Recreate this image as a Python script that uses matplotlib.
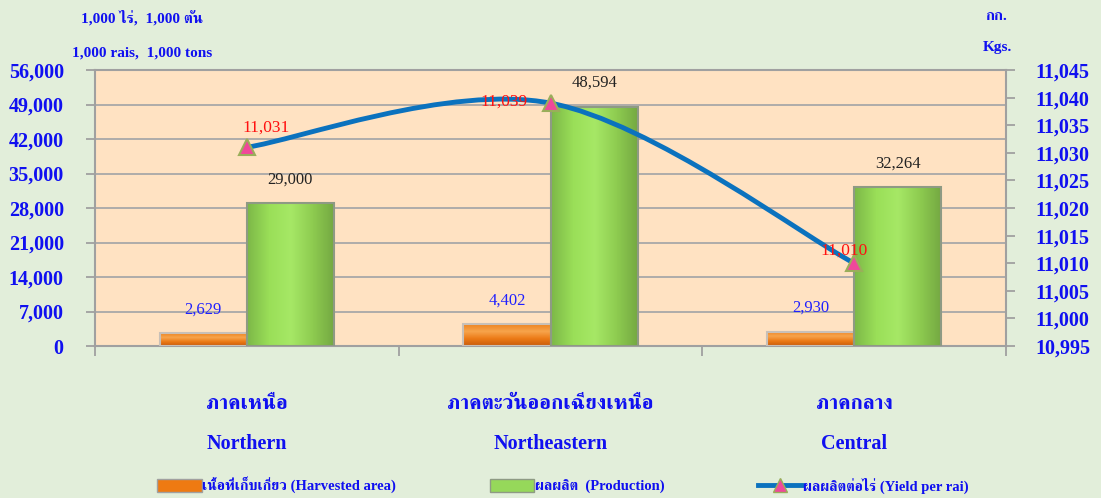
import matplotlib
matplotlib.use("Agg")
import matplotlib.pyplot as plt
import numpy as np
from matplotlib.path import Path
from matplotlib.patches import PathPatch, Patch
from matplotlib.lines import Line2D
from matplotlib.colors import LinearSegmentedColormap

# data
regions_th = ["ภาคเหนือ", "ภาคตะวันออกเฉียงเหนือ", "ภาคกลาง"]
regions_en = ["Northern", "Northeastern", "Central"]
area = [2629, 4402, 2930]          # 1,000 rais
production = [29000, 48594, 32264]  # 1,000 tons
yield_per_rai = [11031, 11039, 11010]  # kgs

FONT = ["Liberation Serif", "FreeSerif"]
BLUE = "#1010F0"

fig = plt.figure(figsize=(11.01, 4.98), dpi=100)
fig.patch.set_facecolor("#E2EEDA")
ax = fig.add_axes([95/1101, 1-346/498, 911/1101, 276/498])
ax.set_facecolor("#FFE2C2")

x = np.arange(len(regions_en))
w = 0.287
b1 = ax.bar(x - w/2, area, w, color="#EE7A12", linewidth=0, zorder=3)
b2 = ax.bar(x + w/2, production, w, color="#92D84E", linewidth=0, zorder=3)

# gradient shading on the bars
orange_cm = LinearSegmentedColormap.from_list("o", ["#C85C0C", "#EC7A16", "#F7A44C", "#EE8420"])
green_cm = LinearSegmentedColormap.from_list("g", ["#7DB848", "#9ADF58", "#A6E866", "#8ECC50", "#74A842"])
for rect in b1:
    grad = np.linspace(0, 1, 64).reshape(-1, 1)
    im = ax.imshow(grad, cmap=orange_cm, origin="lower", aspect="auto", zorder=3.5,
                   extent=[rect.get_x(), rect.get_x() + rect.get_width(), 0, rect.get_height()])
    im.set_clip_path(rect)
for rect in b2:
    grad = np.linspace(0, 1, 64).reshape(1, -1)
    im = ax.imshow(grad, cmap=green_cm, origin="lower", aspect="auto", zorder=3.5,
                   extent=[rect.get_x(), rect.get_x() + rect.get_width(), 0, rect.get_height()])
    im.set_clip_path(rect)
# outlines on top
ax.bar(x - w/2, area, w, fill=False, edgecolor="#C8C0B8", linewidth=1.5, zorder=4)
ax.bar(x + w/2, production, w, fill=False, edgecolor="#8E9A84", linewidth=1.5, zorder=4)
ax.set_xlim(-0.5, 2.5)
ax.set_ylim(0, 56000)

ax.set_yticks(np.arange(0, 56001, 7000))
ax.set_yticklabels(["{:,}".format(v) for v in range(0, 56001, 7000)],
                   family=FONT, fontsize=14.5, fontweight="bold", color=BLUE)
ax.set_xticks([-0.5, 0.5, 1.5, 2.5])
ax.set_xticklabels([])
ax.tick_params(axis="x", length=7, color="#A0A0A0", direction="out", width=1.3)
ax.tick_params(axis="y", length=6.5, color="#A0A0A0", pad=16, width=1.3)
ax.grid(axis="y", color="#A8A8A8", linewidth=1.3, zorder=0)
for s in ax.spines.values():
    s.set_color("#A0A0A0")
    s.set_linewidth(1.5)

for i in range(len(x)):
    ax.text(x[i] - w/2, area[i] + 3200, "{:,}".format(area[i]), ha="center", va="bottom",
            family=FONT, fontsize=12, color="#2020FF", zorder=5)
    ax.text(x[i] + w/2, production[i] + 3200, "{:,}".format(production[i]), ha="center", va="bottom",
            family=FONT, fontsize=12, color="#222222", zorder=5)
    ax.text(x[i], -11700, regions_th[i], ha="center", va="center", family=FONT,
            fontsize=15, fontweight="bold", color=BLUE)
    ax.text(x[i], -19900, regions_en[i], ha="center", va="center", family=FONT,
            fontsize=14.5, fontweight="bold", color=BLUE)

ax2 = ax.twinx()
ax2.set_ylim(10995, 11045)
ax2.set_yticks(np.arange(10995, 11046, 5))
ax2.set_yticklabels(["{:,}".format(v) for v in range(10995, 11046, 5)],
                    family=FONT, fontsize=14.5, fontweight="bold", color=BLUE)
ax2.tick_params(axis="y", length=6.5, color="#A0A0A0", pad=15, width=1.3)
for s in ax2.spines.values():
    s.set_visible(False)

# smoothed line (bezier through the points, Excel-style)
px = x.astype(float)
py = np.array(yield_per_rai, dtype=float)
t = 1/6
verts = [(px[0], py[0])]
codes = [Path.MOVETO]
n = len(px)
for i in range(n - 1):
    p0 = (px[i-1], py[i-1]) if i > 0 else (px[i], py[i])
    p3 = (px[i+2], py[i+2]) if i + 2 < n else (px[i+1], py[i+1])
    c1 = (px[i] + (px[i+1] - p0[0]) * t, py[i] + (py[i+1] - p0[1]) * t)
    c2 = (px[i+1] - (p3[0] - px[i]) * t, py[i+1] - (p3[1] - py[i]) * t)
    verts += [c1, c2, (px[i+1], py[i+1])]
    codes += [Path.CURVE4] * 3
ax2.add_patch(PathPatch(Path(verts, codes), facecolor="none", edgecolor="#0B72BE", linewidth=3.5, zorder=4))
ax2.plot(px, py, linestyle="none", marker="^", markersize=12, markerfacecolor="#F0489A",
         markeredgecolor="#9AAE5A", markeredgewidth=1.5, zorder=6)
# label offsets in pixels (labels were hand placed in the original)
lab_off = [(19, 20), (-46, 1), (-10, 13)]
for i in range(n):
    ax2.annotate("{:,}".format(yield_per_rai[i]), (px[i], py[i]), xytext=lab_off[i],
                 textcoords="offset pixels", ha="center", va="center",
                 family=FONT, fontsize=12.5, color="#FF1010", zorder=7)

# unit labels
fig.text(142/1101, 1-18/498, "1,000 ไร่,  1,000 ตัน", ha="center", va="center",
         family=FONT, fontsize=11, fontweight="bold", color=BLUE)
fig.text(142/1101, 1-53/498, "1,000 rais,  1,000 tons", ha="center", va="center",
         family=FONT, fontsize=11, fontweight="bold", color=BLUE)
fig.text(996/1101, 1-16/498, "กก.", ha="center", va="center",
         family=FONT, fontsize=11, fontweight="bold", color=BLUE)
fig.text(997/1101, 1-47/498, "Kgs.", ha="center", va="center",
         family=FONT, fontsize=11, fontweight="bold", color=BLUE)

handles = [Patch(facecolor="#EE7A12", edgecolor="#A0A0A0"),
           Patch(facecolor="#96D85A", edgecolor="#8E9A84"),
           Line2D([0], [0], color="#0B72BE", linewidth=3.5, marker="^", markersize=10,
                  markerfacecolor="#F0489A", markeredgecolor="#9AAE5A")]
labels = ["เนื้อที่เก็บเกี่ยว (Harvested area)", "ผลผลิต  (Production)", "ผลผลิตต่อไร่ (Yield per rai)"]
leg = fig.legend(handles, labels, loc="center", bbox_to_anchor=(563/1101, 1-485/498), ncol=3,
                 frameon=False, columnspacing=6.4, handlelength=3.05, handletextpad=0.05,
                 handleheight=1.0, prop={"family": FONT, "size": 10.5, "weight": "bold"})
for t_ in leg.get_texts():
    t_.set_color(BLUE)

fig.savefig("out.png", dpi=100, facecolor=fig.get_facecolor())
